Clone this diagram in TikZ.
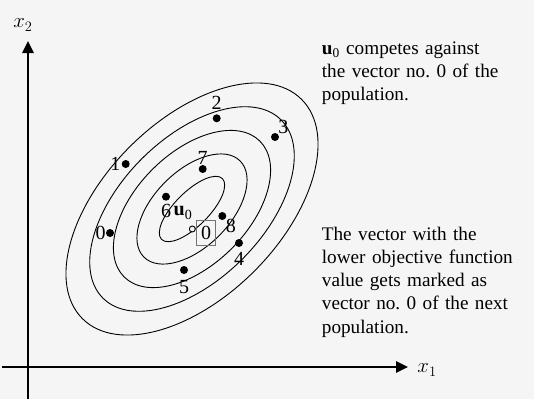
\documentclass[tikz,border=0pt]{standalone}
\usepackage{fontspec}
\setmainfont{Liberation Serif}
\usetikzlibrary{arrows.meta,positioning}

\begin{document}
\begin{tikzpicture}[
    x=1pt, y=-1pt,
    contour/.style={draw=black, line width=0.9pt},
    dot/.style={circle, fill=black, inner sep=0pt, minimum size=8pt},
    num/.style={font=\fontsize{20}{20}\selectfont, inner sep=1pt},
    note/.style={text width=230pt, align=left, inner sep=0pt,
        font=\fontsize{19.2}{23.3}\selectfont},
    axis/.style={line width=2.6pt, -{Triangle[length=12pt,width=11pt]}}
]

% Page
\fill[black!4] (0,0) rectangle (534,399);
\useasboundingbox (0,0) rectangle (534,399);

% Level curves
\coordinate (ctr) at (192,209);
\foreach \a/\b in {43/17, 68/38, 96/56, 126/71, 155/88}
    \draw[contour, rotate around={45:(ctr)}] (ctr) ellipse [x radius=\a, y radius=\b];

% Axes
\coordinate (xstart) at (2,367);
\coordinate (xend) at (408,367);
\coordinate (ystart) at (28,399);
\coordinate (yend) at (28,41);
\draw[axis] (xstart) -- (xend);
\draw[axis] (ystart) -- (yend);
\node[num] (xlab1) at (427,370) {$x_1$};
\node[num] (xlab2) at (23,25) {$x_2$};

% Population
\node[dot, label={[num, label distance=-1pt]left:0}] (v0) at (110,233) {};
\node[dot, label={[num, label distance=0pt]left:1}] (v1) at (125.7,164) {};
\node[dot, label={[num, label distance=3pt]above:2}] (v2) at (216.7,118.3) {};
\node[dot, label={[num, label distance=-1pt]above right:3}] (v3) at (275,137) {};
\node[dot, label={[num, label distance=4pt]below:4}] (v4) at (239,243) {};
\node[dot, label={[num, label distance=5pt]below:5}] (v5) at (184,270) {};
\node[dot, label={[num, label distance=2pt]below:6}] (v6) at (166,196.7) {};
\node[dot, label={[num, label distance=-1pt]above:7}] (v7) at (202.7,169) {};
\node[dot, label={[num, label distance=-1pt]below right:8}] (v8) at (222.3,216) {};

% Trial vector and its rival
\node[circle, draw, fill=black!4, line width=0.9pt, inner sep=0pt, minimum size=6pt] (u0) at (192.3,229) {};
\node[num, inner sep=0pt] (u0lab) at (183,213) {\textbf{u}\textsubscript{0}};
\node[num, draw=black!55, line width=0.8pt, inner sep=0pt, minimum width=19.7pt, minimum height=25.7pt] (best) at (206,233) {0};

% Notes
\node[note, anchor=base west] (note1) at (321.7,54) {\textbf{u}\textsubscript{0} competes against\\the vector no.\ 0 of the\\population.};
\node[note, anchor=base west] (note2) at (321.7,240) {The vector with the\\lower objective function\\value gets marked as\\vector no.\ 0 of the next\\population.};

\end{tikzpicture}
\end{document}
